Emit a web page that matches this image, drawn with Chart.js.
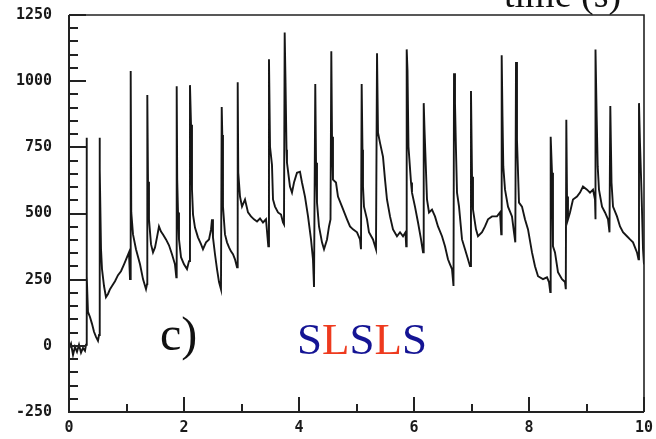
<!DOCTYPE html>
<html>
<head>
<meta charset="utf-8">
<script src="https://cdn.jsdelivr.net/npm/chart.js@4.4.0/dist/chart.umd.min.js"></script>
<style>
  html,body{margin:0;padding:0;background:#fff;}
  #wrap{position:relative;width:656px;height:439px;overflow:hidden;}
  canvas{position:absolute;left:0;top:0;}
  .ann{position:absolute;white-space:nowrap;line-height:0;font-family:"Liberation Serif","Times New Roman",serif;}
</style>
</head>
<body>
<div id="wrap">
  <canvas id="c" width="656" height="439"></canvas>
  <div class="ann" id="tl" style="left:504px;top:-5.8px;font-size:38px;color:#111;">time (s)</div>
  <div class="ann" id="cl" style="left:160px;top:333.8px;font-size:48px;color:#111;">c)</div>
  <div class="ann" id="sl" style="left:297px;top:338.8px;font-size:45px;"><span style="color:#141494">S</span><span style="color:#ee3a1e">L</span><span style="color:#141494">S</span><span style="color:#ee3a1e">L</span><span style="color:#141494">S</span></div>
</div>
<script>
// time in seconds
const timeSec = [
0.000,0.035,0.070,0.104,0.139,0.174,0.209,0.243,0.278,0.296,
0.304,0.313,0.330,0.365,0.400,0.435,0.470,0.504,0.522,
0.530,0.539,0.557,0.574,0.609,0.643,0.678,0.713,0.748,0.800,0.852,0.904,0.957,1.009,1.043,1.061,
1.073,1.083,1.113,1.165,1.235,1.287,1.339,1.357,
1.362,1.374,1.391,1.426,1.461,1.496,1.530,1.565,1.600,1.635,1.687,1.739,1.791,1.843,1.866,
1.873,1.882,1.896,1.913,1.948,2.000,2.052,2.087,
2.104,2.122,2.139,2.157,2.191,2.243,2.296,2.330,2.383,2.435,2.470,2.487,2.504,2.539,2.574,2.609,2.643,
2.656,2.666,2.678,2.713,2.748,2.783,2.817,2.852,2.887,2.922,
2.934,2.944,2.974,3.009,3.061,3.113,3.165,3.217,3.270,3.322,3.374,3.426,3.466,
3.478,3.496,3.530,3.548,3.583,3.635,3.687,3.722,3.739,
3.751,3.765,3.783,3.791,3.843,3.878,3.913,3.965,4.017,4.052,4.104,4.157,4.209,4.243,4.261,
4.283,4.296,4.313,4.348,4.400,4.435,4.487,4.522,4.548,
4.562,4.574,4.591,4.643,4.678,4.748,4.835,4.887,4.939,5.009,5.061,5.078,
5.090,5.104,5.113,5.130,5.183,5.217,5.287,5.339,
5.357,5.374,5.409,5.461,5.496,5.530,5.583,5.635,5.704,5.757,5.809,5.852,5.864,
5.873,5.887,5.904,5.948,5.965,6.017,6.070,6.122,6.157,
6.169,6.183,6.226,6.261,6.313,6.365,6.417,6.487,6.539,6.591,6.626,6.661,6.687,
6.696,6.713,6.730,6.748,6.783,6.835,6.887,6.939,6.974,
6.991,7.009,7.026,7.078,7.113,7.183,7.235,7.287,7.357,7.443,7.496,7.517,
7.525,7.539,7.553,7.583,7.635,7.704,7.739,7.762,
7.774,7.791,7.826,7.878,7.930,7.983,8.052,8.104,8.157,8.243,8.313,8.348,8.370,
8.377,8.400,8.417,8.452,8.504,8.574,8.626,8.640,
8.649,8.661,8.678,8.713,8.765,8.835,8.887,8.939,9.009,9.061,9.113,9.148,9.153,
9.160,9.177,9.195,9.217,9.270,9.322,9.374,9.400,
9.414,9.435,9.461,9.530,9.583,9.635,9.704,9.757,9.809,9.878,9.904,
9.913,9.930,9.957,9.983,10.000
];
// signal value
const signal = [
-11,8,-34,-4,-23,4,-26,-8,-19,4,
786,263,128,109,83,53,34,19,41,
786,666,365,290,226,184,196,214,226,244,267,282,308,335,353,252,
1038,504,421,365,308,252,214,233,
948,620,478,384,353,372,410,451,432,421,402,380,346,308,259,
981,628,504,402,335,308,290,320,
985,835,590,496,447,410,384,365,391,402,440,478,410,346,290,241,214,
902,797,526,421,391,372,357,346,327,297,
996,654,564,526,553,504,489,478,470,481,466,478,376,
1083,752,684,553,526,504,496,466,459,
1184,1004,741,692,602,579,617,654,658,617,564,489,402,327,222,
989,692,541,451,391,365,402,451,478,
1113,790,628,617,564,526,478,451,440,429,402,365,
989,741,602,526,478,429,402,365,
1105,805,767,714,628,553,489,440,414,429,414,429,376,
1120,1041,752,617,579,526,466,402,353,
917,816,553,504,515,489,451,414,376,327,308,290,226,
1030,917,741,579,526,402,365,327,301,
963,639,515,440,414,429,451,478,489,489,504,421,
1098,865,677,590,526,489,429,391,
1072,778,541,526,478,440,353,301,263,252,259,241,203,
790,654,376,353,278,252,241,214,
854,564,478,504,553,564,579,602,590,579,590,553,478,
1120,865,677,590,526,504,478,429,
906,617,526,489,451,429,414,402,391,353,327,
917,767,579,365,308
];
const xTickLabels = [0,2,4,6,8,10];
const xMinorTicks = [1,3,5,7,9];
const yTickLabels = [-250,0,250,500,750,1000,1250];
const yMinorStep = 50;

const frameTicks = {
  id:'frameTicks',
  afterDraw(chart){
    const ctx = chart.ctx, a = chart.chartArea;
    const xs = chart.scales.x, ys = chart.scales.y;
    ctx.save();
    ctx.strokeStyle = '#222';
    ctx.lineWidth = 1.6;
    ctx.beginPath();
    ctx.moveTo(a.left, a.top); ctx.lineTo(a.right, a.top); ctx.lineTo(a.right, a.bottom);
    ctx.stroke();
    ctx.lineWidth = 2;
    ctx.beginPath();
    ctx.moveTo(a.left, a.top); ctx.lineTo(a.left, a.bottom); ctx.lineTo(a.right, a.bottom);
    ctx.stroke();
    ctx.lineWidth = 2;
    ctx.beginPath();
    for (let v = yTickLabels[0]; v <= yTickLabels[yTickLabels.length-1]; v += yMinorStep) {
      const py = Math.round(ys.getPixelForValue(v));
      const major = yTickLabels.includes(v);
      ctx.moveTo(a.left, py); ctx.lineTo(a.left + (major ? 17 : 9), py);
    }
    ctx.stroke();
    ctx.beginPath();
    xTickLabels.forEach(v => { const px = Math.round(xs.getPixelForValue(v)); ctx.moveTo(px, a.bottom); ctx.lineTo(px, a.bottom - 15); });
    xMinorTicks.forEach(v => { const px = Math.round(xs.getPixelForValue(v)); ctx.moveTo(px, a.bottom); ctx.lineTo(px, a.bottom - 8); });
    ctx.stroke();
    ctx.restore();
  }
};

const tickFont = {family:'"DejaVu Sans Mono", monospace', size:15, weight:'bold'};

new Chart(document.getElementById('c'), {
  type:'scatter',
  data:{ datasets:[{
    data: timeSec.map((t,i)=>({x:t, y:signal[i]})),
    showLine:true, pointRadius:0, borderColor:'#161616', borderWidth:1.9, tension:0,
    borderJoinStyle:'miter'
  }]},
  options:{
    responsive:false, animation:false,
    layout:{padding:{top:15, right:12, left:0, bottom:0}},
    plugins:{legend:{display:false}, tooltip:{enabled:false}},
    scales:{
      x:{ type:'linear', min:0, max:10,
        grid:{display:false, drawTicks:false}, border:{display:false},
        ticks:{ stepSize:2, padding:7, color:'#1a1a1a', font:tickFont, maxRotation:0,
                callback:(v)=> xTickLabels.includes(v) ? String(v) : '' },
        afterFit:(s)=>{ s.height = 27; s.paddingLeft = 0; s.paddingRight = 0; }
      },
      y:{ type:'linear', min:-250, max:1250,
        grid:{display:false, drawTicks:false}, border:{display:false},
        ticks:{ stepSize:250, padding:17, color:'#1a1a1a', font:tickFont,
                callback:(v)=> yTickLabels.includes(v) ? String(v) : '' },
        afterFit:(s)=>{ s.width = 69; s.paddingTop = 0; s.paddingBottom = 0; }
      }
    }
  },
  plugins:[frameTicks]
});
</script>
</body>
</html>
